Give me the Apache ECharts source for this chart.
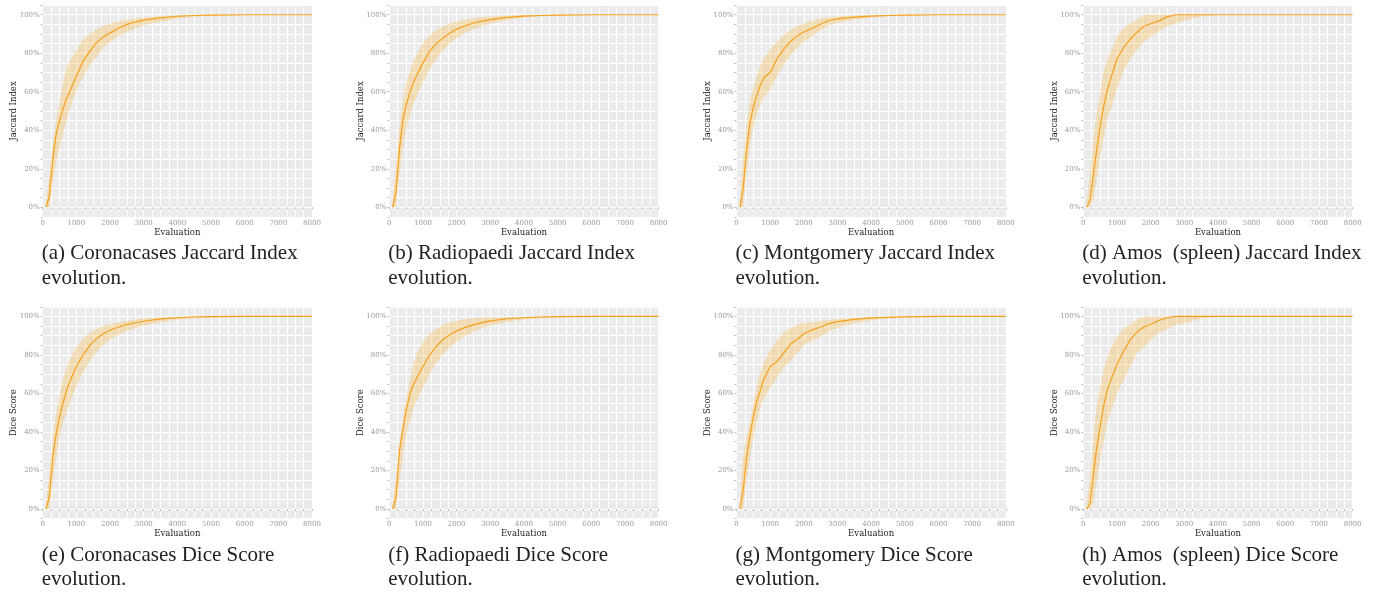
<!DOCTYPE html>
<html>
<head>
<meta charset="utf-8">
<script src="https://cdn.jsdelivr.net/npm/echarts@6/dist/echarts.min.js"></script>
<style>
html,body{margin:0;padding:0;background:#fff;}
#chart{width:1380px;height:597px;}
</style>
</head>
<body>
<div id="chart"></div>
<script>
// Evaluation numbers (x values shared by every panel)
const evaluations = [100,200,300,400,500,600,700,800,1000,1200,1400,1600,1800,2000,2250,2500,2750,3000,3500,4000,4500,5000,6000,7000,8000];

// Y tick labels shown (percent)
const yTickLabels = [0,20,40,60,80,100];
const xTickLabels = [0,1000,2000,3000,4000,5000,6000,7000,8000];

const captions = [
  "(a) Coronacases Jaccard Index\nevolution.",
  "(b) Radiopaedi Jaccard Index\nevolution.",
  "(c) Montgomery Jaccard Index\nevolution.",
  "(d) Amos  (spleen) Jaccard Index\nevolution.",
  "(e) Coronacases Dice Score\nevolution.",
  "(f) Radiopaedi Dice Score\nevolution.",
  "(g) Montgomery Dice Score\nevolution.",
  "(h) Amos  (spleen) Dice Score\nevolution."
];
const yTitles = ["Jaccard Index","Jaccard Index","Jaccard Index","Jaccard Index","Dice Score","Dice Score","Dice Score","Dice Score"];

// (a) Coronacases Jaccard
const meanA  = [0,6,25,38,45,51,56,60,68,76,81,85.5,88.5,90.5,93,95,96.2,97.2,98.4,99.2,99.6,99.8,100,100,100];
const upperA = [3,17,33,45,55,64,72,76,81.5,87,90,92.5,94.3,95.5,96.5,97.4,98,98.6,99.3,99.7,99.9,100,100,100,100];
const lowerA = [0,0,13,24,31,38,45,51,61,68,74,78,83,86,89,91,93,94.5,96.4,98,99,99.5,99.9,100,100];
// (b) Radiopaedi Jaccard
const meanB  = [0,8,30,45,53,59,64,68,75,81,85,88,90.5,92.5,94.3,95.7,96.7,97.5,98.6,99.3,99.6,99.8,100,100,100];
const upperB = [3,22,42,55,64,70,75,79,85,89,92,94,95.5,96.5,97.5,98.2,98.7,99.1,99.6,99.8,99.9,100,100,100,100];
const lowerB = [0,0,17,31,40,47,53,57,65,72,77,81.5,85,88,90.5,92.5,94,95.5,97.3,98.5,99.2,99.6,99.9,100,100];
// (c) Montgomery Jaccard
const meanC  = [0,10,30,44,52,58,63,67,70,77,82,86,89,91,93,95.2,97,97.8,98.8,99.3,99.6,99.8,100,100,100];
const upperC = [4,25,43,55,62,68,73,77,82,86,89.5,92,94,95.5,96.8,98,98.7,99.1,99.6,99.8,99.9,100,100,100,100];
const lowerC = [0,0,17,32,42,48,53,57,61,68,74,79,83,86,89,92,94.5,95.8,97.5,98.5,99.2,99.6,99.9,100,100];
// (d) Amos (spleen) Jaccard
const meanD  = [0,3.5,17,30,42,52,60,66,77,83,87.5,91,94,95.3,96.8,99,100,100,100,100,100,100,100,100,100];
const upperD = [3.5,17,35,49,59,70,76,80,88.5,93,95.5,97.5,100,100,100,100,100,100,100,100,100,100,100,100,100];
const lowerD = [0,0,4,15,26,36,45,50,62,71,77,82,86,88.5,91.5,94,95.5,97,99,100,100,100,100,100,100];
// (e) Coronacases Dice
const meanE  = [0,6.5,27,39,48,55,61,66,74,80,85,88.5,91,92.8,94.5,95.7,96.7,97.5,98.7,99.3,99.7,99.9,100,100,100];
const upperE = [3,19,37,50,59,67,73,77.5,84,88.5,91.5,93.5,95,96,97,97.8,98.4,98.9,99.5,99.8,99.9,100,100,100,100];
const lowerE = [0,0,14,27,37,44,50,55,64,71,77,81.5,85,88,90.5,92.5,94,95.3,97,98.3,99,99.5,99.9,100,100];
// (f) Radiopaedi Dice
const meanF  = [0,6,30,41,51,59,64,67.5,74,80,84.5,88,90.5,92.5,94.3,95.6,96.8,97.7,98.8,99.3,99.7,99.9,100,100,100];
const upperF = [3,16,34,46,57,66,74,80,87,91,93.5,95.5,96.8,97.8,98.5,99,99.3,99.5,99.7,99.8,99.9,100,100,100,100];
const lowerF = [0,0,14,28,38,45,51,56,63,70,76,80.5,84,87,90,92,93.8,95.3,97.2,98.4,99.1,99.5,99.9,100,100];
// (g) Montgomery Dice
const meanG  = [0,10,27,38,48,56,61,67,74,76.5,81,85.5,88,91,93,94.5,96.3,97.3,98.5,99.2,99.5,99.8,100,100,100];
const upperG = [3,28,38,44.5,55,63.5,70.5,75.6,82.5,87.7,91.5,93.8,95.5,96.4,97,97.6,98.1,98.6,99.2,99.6,99.8,100,100,100,100];
const lowerG = [0,0,15,27,37,45,52,57,63,68,73.5,77,81,85,87.5,89.5,92.5,94,96.5,98,99,99.5,99.9,100,100];
// (h) Amos (spleen) Dice
const meanH  = [0,3,18,32,43,53,61,66,75,82,88,92,94.5,95.8,98,99.3,100,100,100,100,100,100,100,100,100];
const upperH = [3,17,37,53,63,72,78,83,89.5,94,96,98.5,100,100,100,100,100,100,100,100,100,100,100,100,100];
const lowerH = [0,0,3,15,26,35,44,50,60,67,74,81,84,87.5,91.5,93.5,95.5,96.5,99,100,100,100,100,100,100];

const means  = [meanA,meanB,meanC,meanD,meanE,meanF,meanG,meanH];
const uppers = [upperA,upperB,upperC,upperD,upperE,upperF,upperG,upperH];
const lowers = [lowerA,lowerB,lowerC,lowerD,lowerE,lowerF,lowerG,lowerH];

const lefts = [42.7, 389.3, 736.5, 1083.3];
const tops = [5.1, 306.8];
const W = 269.3, H = 211.8;

const grids = [], xAxes = [], yAxes = [], series = [], graphics = [];
const serif = '"DejaVu Serif", serif';
const tickColor = '#9a9a9a';

function bandRenderer(bandData) {
  return function (params, api) {
    if (params.dataIndex !== 0) return null;
    const top = bandData.map(d => api.coord([d[0], d[2]]));
    const bottom = bandData.map(d => api.coord([d[0], d[1]])).reverse();
    return {
      type: 'polygon',
      shape: {points: top.concat(bottom)},
      style: {fill: 'rgba(250,172,40,0.27)', stroke: 'none'},
      silent: true
    };
  };
}

for (let i = 0; i < 8; i++) {
  const col = i % 4, row = Math.floor(i / 4);
  grids.push({left: lefts[col], top: tops[row], width: W, height: H,
    show: true, backgroundColor: '#ebebeb', borderWidth: 0, containLabel: false});
  xAxes.push({
    type: 'value', gridIndex: i, min: 0, max: 8000, interval: 1000,
    name: 'Evaluation', nameLocation: 'middle', nameGap: 11, nameMoveOverlap: false,
    nameTextStyle: {fontFamily: serif, fontSize: 8.5, color: '#222'},
    axisLine: {show: false},
    axisTick: {show: true, length: 2, lineStyle: {color: '#aaa', width: 0.8}},
    minorTick: {show: true, splitNumber: 4, length: 2, lineStyle: {color: '#aaa', width: 0.8}},
    axisLabel: {margin: 2.5, fontFamily: serif, fontSize: 7, color: tickColor,
      formatter: v => xTickLabels.indexOf(v) >= 0 ? String(v) : ''},
    splitLine: {show: true, lineStyle: {color: '#ffffff', width: 1}},
    minorSplitLine: {show: true, lineStyle: {color: '#ffffff', width: 1}}
  });
  yAxes.push({
    type: 'value', gridIndex: i, min: -5, max: 105, interval: 5,
    name: yTitles[i], nameLocation: 'middle', nameGap: 24, nameMoveOverlap: false,
    nameTextStyle: {fontFamily: serif, fontSize: 8.5, color: '#222'},
    axisLine: {show: false},
    axisTick: {show: true, length: 2, lineStyle: {color: '#aaa', width: 0.8}},
    axisLabel: {margin: 3, fontFamily: serif, fontSize: 7, color: tickColor,
      formatter: v => yTickLabels.indexOf(v) >= 0 ? v + '%' : ''},
    splitLine: {show: true, lineStyle: {color: '#ffffff', width: 1}}
  });
  const bandData = evaluations.map((x, k) => [x, lowers[i][k], uppers[i][k]]);
  const meanData = evaluations.map((x, k) => [x, means[i][k]]);
  series.push({
    type: 'custom', xAxisIndex: i, yAxisIndex: i, data: bandData,
    renderItem: bandRenderer(bandData), encode: {x: 0, y: [1, 2]}, z: 2, silent: true
  });
  series.push({
    type: 'line', xAxisIndex: i, yAxisIndex: i, data: meanData,
    symbol: 'none', lineStyle: {color: '#f5a01a', width: 1.2}, z: 3
  });
  graphics.push({
    type: 'text', left: lefts[col] - 1, top: tops[row] + H + 24.5,
    style: {text: captions[i], fontFamily: '"Liberation Serif", serif', fontSize: 21,
      lineHeight: 24.5, fill: '#222'}
  });
}

const chart = echarts.init(document.getElementById('chart'), null, {renderer: 'canvas'});
chart.setOption({
  animation: false,
  grid: grids, xAxis: xAxes, yAxis: yAxes, series: series, graphic: graphics
});
</script>
</body>
</html>
